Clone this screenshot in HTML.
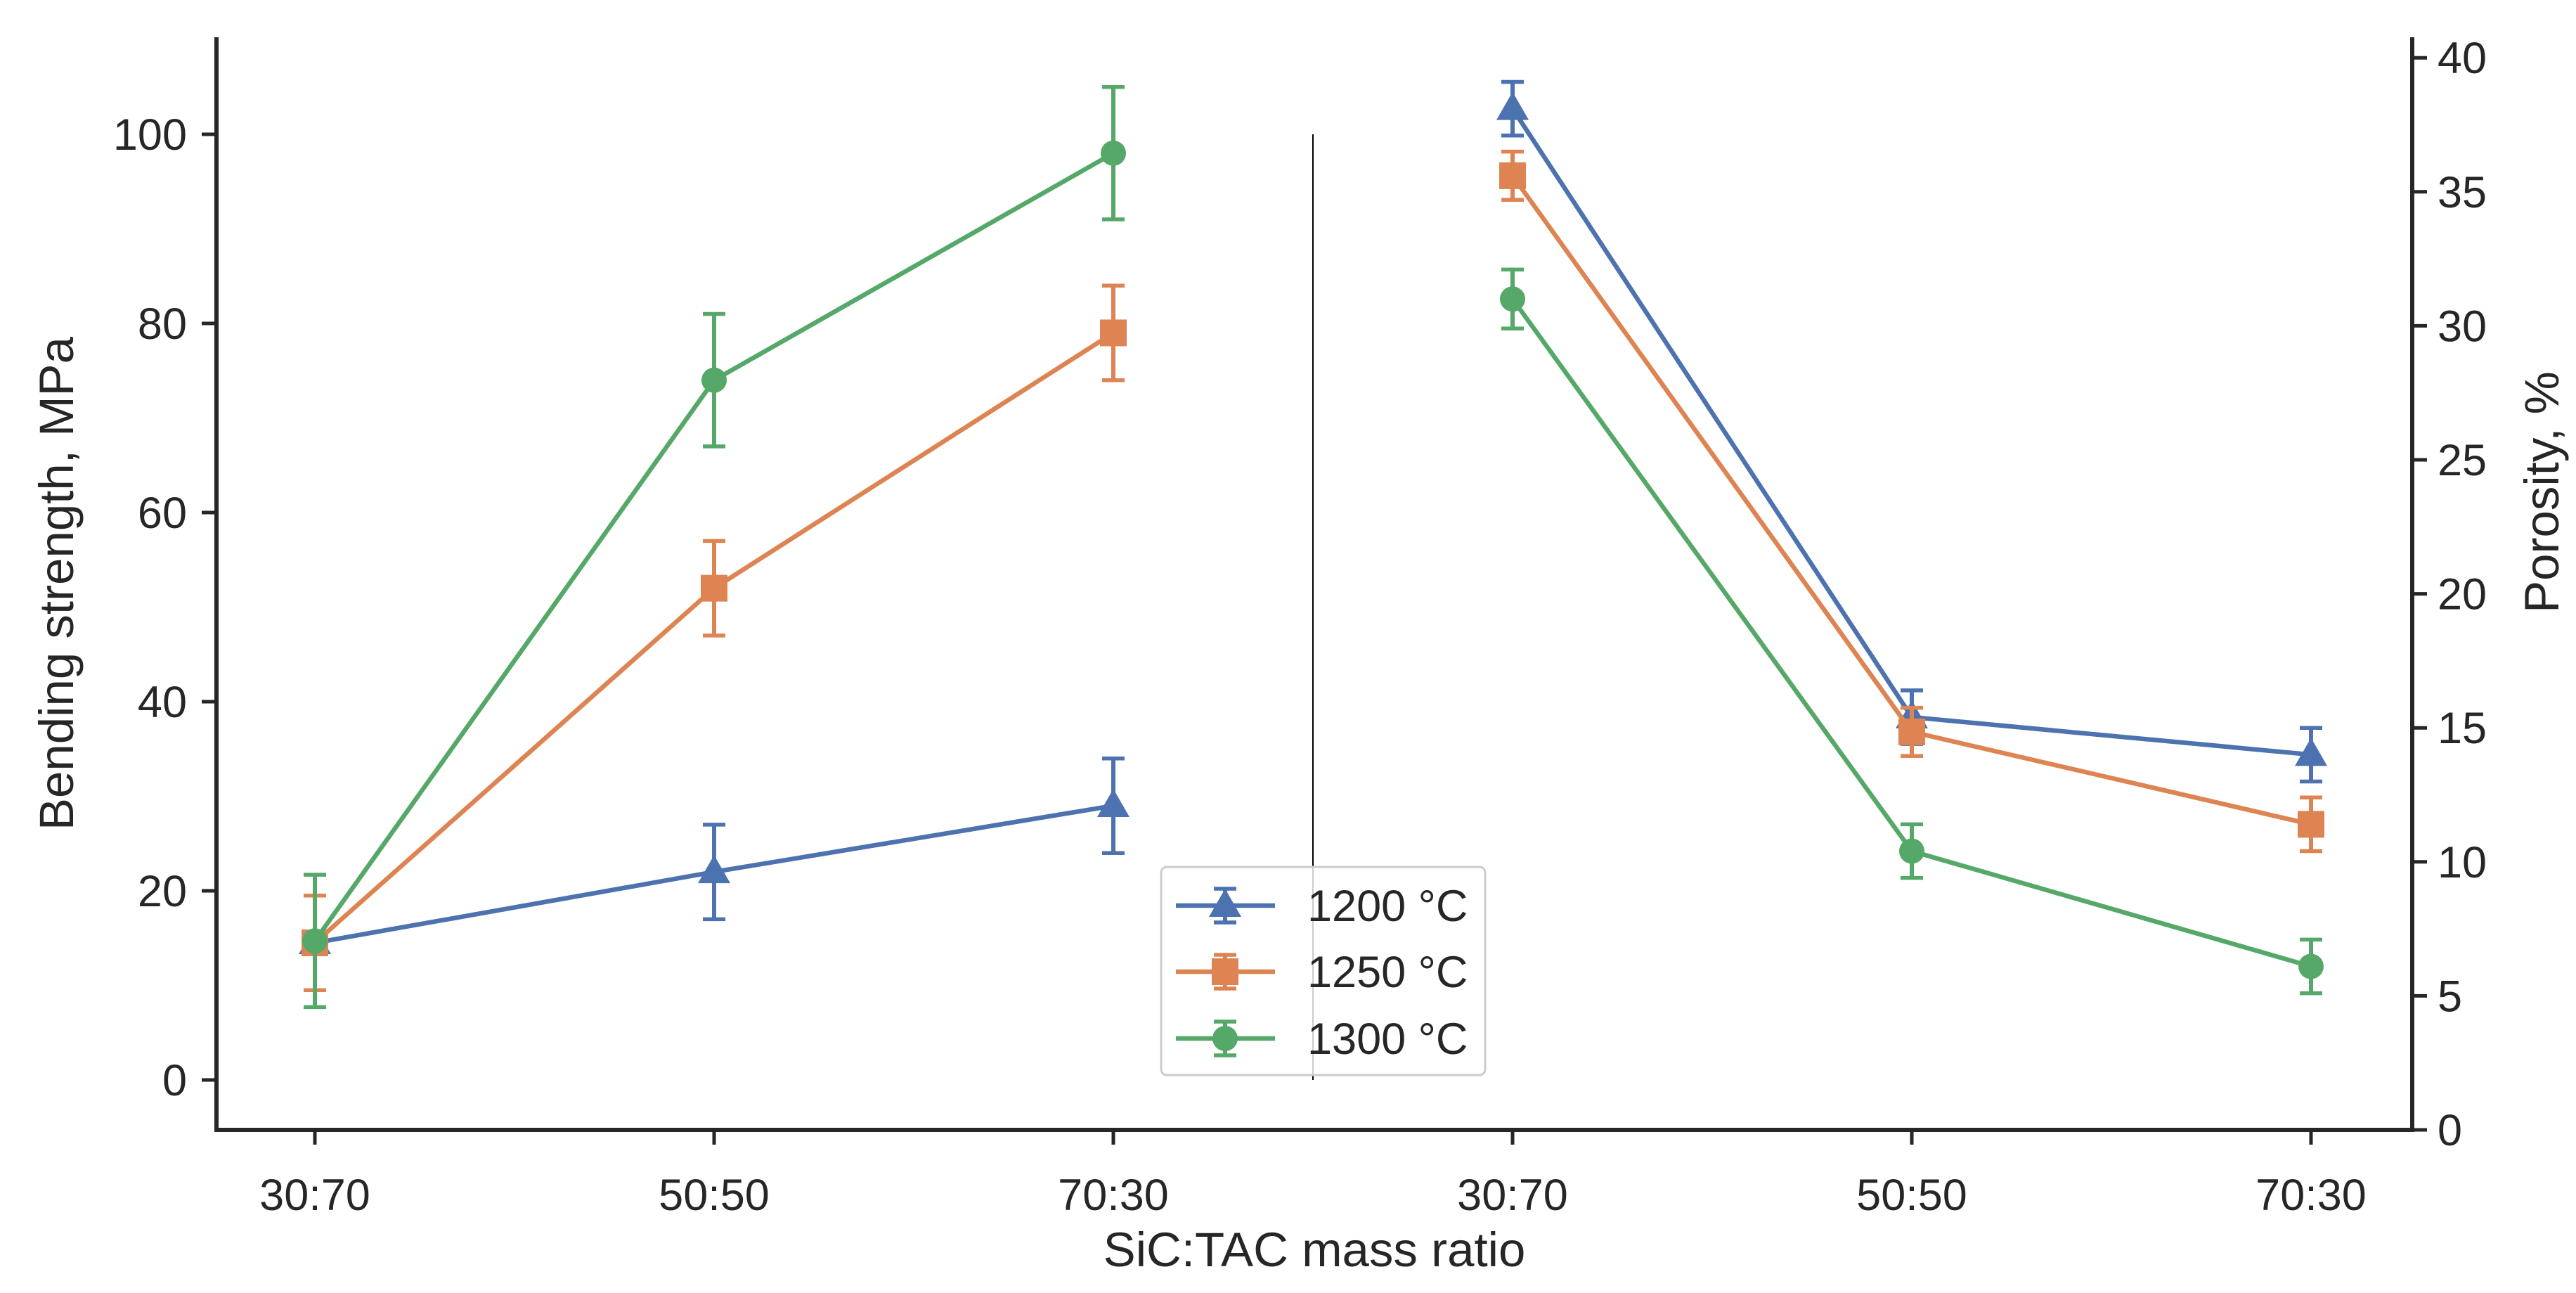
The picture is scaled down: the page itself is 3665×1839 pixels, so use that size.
<!DOCTYPE html>
<html><head><meta charset="utf-8"><style>
html,body{margin:0;padding:0;background:#fff;}
svg{display:block;font-family:"Liberation Sans","DejaVu Sans",sans-serif;}
</style></head><body>
<svg id="chart" width="3665" height="1839" viewBox="0 0 3665 1839" xmlns="http://www.w3.org/2000/svg"></svg>
<script>
const categories = ["30:70","50:50","70:30"];
const seriesNames = ["1200 °C","1250 °C","1300 °C"];
const strength1200 = [14.5, 22, 29];
const strength1250 = [14.5, 52, 79];
const strength1300 = [14.7, 74, 98];
const strengthErr1200 = [5, 5, 5];
const strengthErr1250 = [5, 5, 5];
const strengthErr1300 = [7, 7, 7];
const porosity1200 = [38.1, 15.4, 14.0];
const porosity1250 = [35.6, 14.85, 11.4];
const porosity1300 = [31.0, 10.4, 6.1];
const porosityErr1200 = [1.0, 1.0, 1.0];
const porosityErr1250 = [0.9, 0.9, 1.0];
const porosityErr1300 = [1.1, 1.0, 1.0];
const leftTicks = [0,20,40,60,80,100];
const rightTicks = [0,5,10,15,20,25,30,35,40];

const NS="http://www.w3.org/2000/svg";
const svg=document.getElementById('chart');
const colors=["#4c72b0","#dd8452","#55a868"];
const markers=["tri","sq","circ"];
const xPos=i=>448+568*i;
const yL=v=>1536-v*13.45;
const yR=v=>1607-v*38.12;
function mk(tag,attrs,parent){const e=document.createElementNS(NS,tag);for(const k in attrs)e.setAttribute(k,attrs[k]);(parent||svg).appendChild(e);return e;}
function txt(s,attrs,parent){const e=mk('text',attrs,parent);e.textContent=s;return e;}
function marker(type,x,y,c,g){
  if(type==='tri') return mk('polygon',{points:`${x},${y-24} ${x-23},${y+16} ${x+23},${y+16}`,fill:c},g);
  if(type==='sq') return mk('rect',{x:x-19,y:y-19,width:38,height:38,fill:c},g);
  return mk('circle',{cx:x,cy:y,r:18,fill:c},g);
}
const axes=mk('g',{});


mk('line',{x1:308,y1:53,x2:308,y2:1610,stroke:"#262626","stroke-width":6},axes);
mk('line',{x1:3432,y1:53,x2:3432,y2:1610,stroke:"#262626","stroke-width":6},axes);
mk('line',{x1:305,y1:1607,x2:3435,y2:1607,stroke:"#262626","stroke-width":6},axes);
leftTicks.forEach(v=>{
  const t=mk('line',{x1:287,y1:yL(v),x2:308,y2:yL(v),stroke:"#262626","stroke-width":5},axes);
  
  const l=txt(String(v),{x:266,y:yL(v)+22,"text-anchor":"end","font-size":63,fill:"#262626"},axes);
  
});
rightTicks.forEach(v=>{
  mk('line',{x1:3432,y1:yR(v),x2:3453,y2:yR(v),stroke:"#262626","stroke-width":5},axes);
  const l=txt(String(v),{x:3468,y:yR(v)+22,"font-size":63,fill:"#262626"},axes);
  
});
for(let i=0;i<6;i++){
  mk('line',{x1:xPos(i),y1:1607,x2:xPos(i),y2:1628,stroke:"#262626","stroke-width":5},axes);
  const l=txt(categories[i%3],{x:xPos(i),y:1721,"text-anchor":"middle","font-size":63,fill:"#262626"},axes);
  
}
const xl=txt("SiC:TAC mass ratio",{x:1870,y:1801,"text-anchor":"middle","font-size":69,fill:"#262626"});

const yl=txt("Bending strength, MPa",{x:0,y:0,"text-anchor":"middle","font-size":69,fill:"#262626",transform:"translate(104,830) rotate(-90)"});

const yr=txt("Porosity, %",{x:0,y:0,"text-anchor":"middle","font-size":69,fill:"#262626",transform:"translate(3640,700) rotate(-90)"});

const dv=mk('line',{x1:xPos(2.5),y1:yL(100),x2:xPos(2.5),y2:yL(0),stroke:"#000","stroke-width":2});



const strength=[strength1200,strength1250,strength1300];
const strengthErr=[strengthErr1200,strengthErr1250,strengthErr1300];
const porosity=[porosity1200,porosity1250,porosity1300];
const porosityErr=[porosityErr1200,porosityErr1250,porosityErr1300];
function drawSeries(vals,errs,off,yf,s,name){
  const g=mk('g',{});
  
  
  const c=colors[s];
  mk('polyline',{points:vals.map((v,i)=>`${xPos(i+off)},${yf(v)}`).join(' '),fill:"none",stroke:c,"stroke-width":6.5},g);
  vals.forEach((v,i)=>{
    const x=xPos(i+off),e=errs[i];
    mk('line',{x1:x,y1:yf(v+e),x2:x,y2:yf(v-e),stroke:c,"stroke-width":6},g);
    mk('line',{x1:x-16,y1:yf(v+e),x2:x+16,y2:yf(v+e),stroke:c,"stroke-width":5.5},g);
    mk('line',{x1:x-16,y1:yf(v-e),x2:x+16,y2:yf(v-e),stroke:c,"stroke-width":5.5},g);
    const m=marker(markers[s],x,yf(v),c,g);
    
  });
}
for(let s=0;s<3;s++){
  drawSeries(strength[s],strengthErr[s],0,yL,s,'strength-series-'+s);
  drawSeries(porosity[s],porosityErr[s],3,yR,s,'porosity-series-'+s);
}
const lg=mk('g',{});


mk('rect',{x:1652,y:1233,width:461,height:296,rx:8,fill:"#fff","fill-opacity":0.8,stroke:"#ccc","stroke-width":3},lg);
[1288,1382,1477].forEach((y,s)=>{
  const c=colors[s];
  const e=mk('g',{},lg);
  
  
  mk('line',{x1:1673,y1:y,x2:1814,y2:y,stroke:c,"stroke-width":6.5},e);
  mk('line',{x1:1743,y1:y-24,x2:1743,y2:y+24,stroke:c,"stroke-width":6},e);
  mk('line',{x1:1727,y1:y-24,x2:1759,y2:y-24,stroke:c,"stroke-width":5.5},e);
  mk('line',{x1:1727,y1:y+24,x2:1759,y2:y+24,stroke:c,"stroke-width":5.5},e);
  marker(markers[s],1743,y,c,e);
  txt(seriesNames[s],{x:1860,y:y+22,"font-size":63,fill:"#262626"},e);
});
</script>
</body></html>
